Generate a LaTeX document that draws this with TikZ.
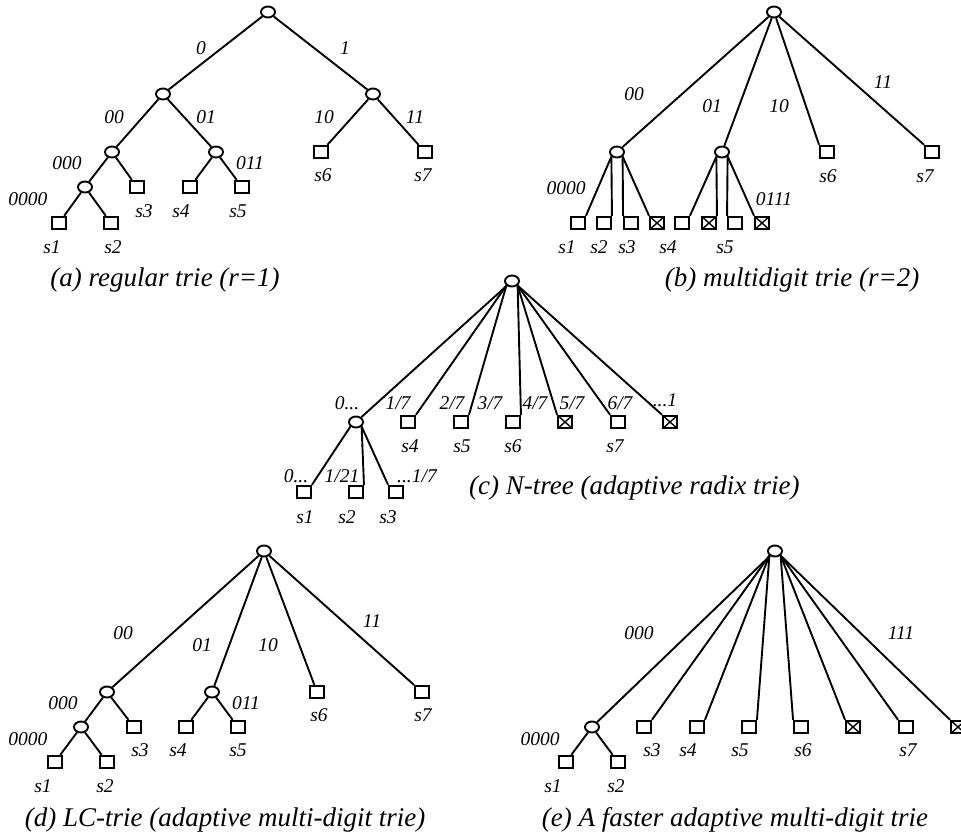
\documentclass[tikz,border=0pt]{standalone}
\usepackage{fontspec}
\setmainfont{Liberation Serif}
\usetikzlibrary{shapes.geometric}

\tikzset{
  inner/.style={ellipse,draw,line width=1.9pt,minimum width=14pt,minimum height=11pt,inner sep=0pt},
  leaf/.style={rectangle,draw,line width=1.9pt,minimum width=14pt,minimum height=12.5pt,inner sep=0pt},
  emptyleaf/.style={leaf,path picture={\draw[line width=1.4pt]
      (path picture bounding box.south west) -- (path picture bounding box.north east)
      (path picture bounding box.north west) -- (path picture bounding box.south east);}},
  lbl/.style={font=\fontsize{19.5}{21}\selectfont\itshape,inner sep=0pt},
  captext/.style={font=\fontsize{27}{30}\selectfont\itshape,inner sep=0pt},
  branch/.style={line width=1.9pt}
}

\begin{document}
\begin{tikzpicture}[x=1pt,y=-1pt]

\useasboundingbox (0,0) rectangle (961,838);

% (a)
\node[inner] (a) at (268,12) {};
\node[inner] (a0) at (163,94) {};
\node[inner] (a1) at (373,94) {};
\node[inner] (a00) at (112,152) {};
\node[inner] (a01) at (216,152) {};
\node[leaf] (a10) at (321,152) {};
\node[leaf] (a11) at (425,152) {};
\node[inner] (a000) at (85,187) {};
\node[leaf] (a001) at (137,187) {};
\node[leaf] (a010) at (190,187) {};
\node[leaf] (a011) at (242,187) {};
\node[leaf] (a0000) at (59,223) {};
\node[leaf] (a0001) at (111,223) {};

\draw[branch] (a) -- (a0);
\draw[branch] (a) -- (a1);
\draw[branch] (a0) -- (a00);
\draw[branch] (a0) -- (a01);
\draw[branch] (a1) -- (a10);
\draw[branch] (a1) -- (a11);
\draw[branch] (a00) -- (a000);
\draw[branch] (a00) -- (a001);
\draw[branch] (a01) -- (a010);
\draw[branch] (a01) -- (a011);
\draw[branch] (a000) -- (a0000);
\draw[branch] (a000) -- (a0001);

\node[lbl] (la0) at (201,48) {0};
\node[lbl] (la1) at (345,48) {1};
\node[lbl] (la00) at (114,117) {00};
\node[lbl] (la01) at (206,117) {01};
\node[lbl] (la10) at (324,117) {10};
\node[lbl] (la11) at (415,117) {11};
\node[lbl] (la000) at (67,163) {000};
\node[lbl] (la011) at (250,163) {011};
\node[lbl] (la0000) at (28,199) {0000};
\node[lbl] (sa1) at (52,247) {s1};
\node[lbl] (sa2) at (113,247) {s2};
\node[lbl] (sa3) at (144,211) {s3};
\node[lbl] (sa4) at (181,211) {s4};
\node[lbl] (sa5) at (238,211) {s5};
\node[lbl] (sa6) at (323,175) {s6};
\node[lbl] (sa7) at (423,175) {s7};
\node[captext] (capa) at (165,280) {(a) regular trie (r=1)};

% (b)
\node[inner] (b) at (774,12) {};
\node[inner] (b00) at (617,152) {};
\node[inner] (b01) at (722,152) {};
\node[leaf] (b10) at (827,152) {};
\node[leaf] (b11) at (932,152) {};
\node[leaf] (b0000) at (578,223) {};
\node[leaf] (b0001) at (604,223) {};
\node[leaf] (b0010) at (631,223) {};
\node[emptyleaf] (b0011) at (657,223) {};
\node[leaf] (b0100) at (682,223) {};
\node[emptyleaf] (b0101) at (709,223) {};
\node[leaf] (b0110) at (735,223) {};
\node[emptyleaf] (b0111) at (762,223) {};

\draw[branch] (b) -- (b00);
\draw[branch] (b) -- (b01);
\draw[branch] (b) -- (b10.north west);
\draw[branch] (b) -- (b11.north west);
\draw[branch] (b00.south west) -- (b0000.north east);
\draw[branch] (b00.south west) -- (b0001.north east);
\draw[branch] (b00.south east) -- (b0010.north west);
\draw[branch] (b00.south east) -- (b0011.north west);
\draw[branch] (b01.south west) -- (b0100.north east);
\draw[branch] (b01.south west) -- (b0101.north east);
\draw[branch] (b01.south east) -- (b0110.north west);
\draw[branch] (b01.south east) -- (b0111.north west);

\node[lbl] (lb00) at (634,94) {00};
\node[lbl] (lb01) at (712,106) {01};
\node[lbl] (lb10) at (779,106) {10};
\node[lbl] (lb11) at (883,82) {11};
\node[lbl] (lb0000) at (566,188) {0000};
\node[lbl] (lb0111) at (774,199) {0111};
\node[lbl] (sb1) at (567,247) {s1};
\node[lbl] (sb2) at (599,247) {s2};
\node[lbl] (sb3) at (627,247) {s3};
\node[lbl] (sb4) at (668,247) {s4};
\node[lbl] (sb5) at (725,247) {s5};
\node[lbl] (sb6) at (828,176) {s6};
\node[lbl] (sb7) at (925,176) {s7};
\node[captext] (capb) at (792,280) {(b) multidigit trie (r=2)};

% (c)
\node[inner] (c) at (512,281) {};
\node[inner] (c0) at (356,422) {};
\node[leaf] (c1) at (408,422) {};
\node[leaf] (c2) at (461,422) {};
\node[leaf] (c3) at (513,422) {};
\node[emptyleaf] (c4) at (565,422) {};
\node[leaf] (c5) at (618,422) {};
\node[emptyleaf] (c6) at (670,422) {};
\node[leaf] (c00) at (304,492) {};
\node[leaf] (c01) at (356,492) {};
\node[leaf] (c02) at (396,492) {};

\draw[branch] (c) -- (c0);
\draw[branch] (c.south west) -- (c1.north east);
\draw[branch] (c.south west) -- (c2.north east);
\draw[branch] (c.south east) -- (c3.north east);
\draw[branch] (c.south east) -- (c4.north west);
\draw[branch] (c.south east) -- (c5.north west);
\draw[branch] (c.south east) -- (c6.north west);
\draw[branch] (c0.south west) -- (c00.north east);
\draw[branch] (c0.south east) -- (c01.north east);
\draw[branch] (c0.south east) -- (c02.north west);

\node[lbl] (lc0) at (347,403) {0...};
\node[lbl] (lc1) at (398,403) {1/7};
\node[lbl] (lc2) at (452,403) {2/7};
\node[lbl] (lc3) at (490,403) {3/7};
\node[lbl] (lc4) at (535,403) {4/7};
\node[lbl] (lc5) at (572,403) {5/7};
\node[lbl] (lc6) at (620,403) {6/7};
\node[lbl] (lc7) at (665,400) {...1};
\node[lbl] (lc00) at (296,476) {0...};
\node[lbl] (lc01) at (342,476) {1/21};
\node[lbl] (lc02) at (417,476) {...1/7};
\node[lbl] (sc4) at (410,446) {s4};
\node[lbl] (sc5) at (462,446) {s5};
\node[lbl] (sc6) at (513,446) {s6};
\node[lbl] (sc7) at (615,446) {s7};
\node[lbl] (sc1) at (305,517) {s1};
\node[lbl] (sc2) at (347,517) {s2};
\node[lbl] (sc3) at (388,517) {s3};
\node[captext,anchor=west] (capc) at (469,488) {(c) N-tree (adaptive radix trie)};

% (d)
\node[inner] (d) at (264,551) {};
\node[inner] (d00) at (107,692) {};
\node[inner] (d01) at (212,692) {};
\node[leaf] (d10) at (317,692) {};
\node[leaf] (d11) at (422,692) {};
\node[inner] (d000) at (81,727) {};
\node[leaf] (d001) at (134,727) {};
\node[leaf] (d010) at (186,727) {};
\node[leaf] (d011) at (238,727) {};
\node[leaf] (d0000) at (55,762) {};
\node[leaf] (d0001) at (107,762) {};

\draw[branch] (d) -- (d00);
\draw[branch] (d) -- (d01);
\draw[branch] (d) -- (d10);
\draw[branch] (d) -- (d11);
\draw[branch] (d00) -- (d000);
\draw[branch] (d00) -- (d001);
\draw[branch] (d01) -- (d010);
\draw[branch] (d01) -- (d011);
\draw[branch] (d000) -- (d0000);
\draw[branch] (d000) -- (d0001);

\node[lbl] (ld00) at (123,633) {00};
\node[lbl] (ld01) at (202,645) {01};
\node[lbl] (ld10) at (268,645) {10};
\node[lbl] (ld11) at (372,621) {11};
\node[lbl] (ld000) at (63,703) {000};
\node[lbl] (ld011) at (246,703) {011};
\node[lbl] (ld0000) at (28,739) {0000};
\node[lbl] (sd1) at (43,786) {s1};
\node[lbl] (sd2) at (105,786) {s2};
\node[lbl] (sd3) at (140,750) {s3};
\node[lbl] (sd4) at (178,750) {s4};
\node[lbl] (sd5) at (238,750) {s5};
\node[lbl] (sd6) at (319,715) {s6};
\node[lbl] (sd7) at (423,715) {s7};
\node[captext] (capd) at (225,820) {(d) LC-trie (adaptive multi-digit trie)};

% (e)
\node[inner] (e) at (775,551) {};
\node[inner] (e000) at (592,727) {};
\node[leaf] (e001) at (644,727) {};
\node[leaf] (e010) at (697,727) {};
\node[leaf] (e011) at (749,727) {};
\node[leaf] (e100) at (801,727) {};
\node[emptyleaf] (e101) at (853,727) {};
\node[leaf] (e110) at (906,727) {};
\node[emptyleaf] (e111) at (958,727) {};
\node[leaf] (e0000) at (566,762) {};
\node[leaf] (e0001) at (618,762) {};

\draw[branch] (e) -- (e000);
\draw[branch] (e.south west) -- (e001.north east);
\draw[branch] (e.south west) -- (e010.north east);
\draw[branch] (e.south west) -- (e011.north east);
\draw[branch] (e.south east) -- (e100.north west);
\draw[branch] (e.south east) -- (e101.north west);
\draw[branch] (e.south east) -- (e110.north west);
\draw[branch] (e.south east) -- (e111.north west);
\draw[branch] (e000) -- (e0000);
\draw[branch] (e000) -- (e0001);

\node[lbl] (le000) at (639,633) {000};
\node[lbl] (le111) at (901,633) {111};
\node[lbl] (le0000) at (540,739) {0000};
\node[lbl] (se1) at (553,786) {s1};
\node[lbl] (se2) at (616,786) {s2};
\node[lbl] (se3) at (652,750) {s3};
\node[lbl] (se4) at (688,750) {s4};
\node[lbl] (se5) at (740,750) {s5};
\node[lbl] (se6) at (803,750) {s6};
\node[lbl] (se7) at (908,750) {s7};
\node[captext] (cape) at (735,820) {(e) A faster adaptive multi-digit trie};

\end{tikzpicture}
\end{document}
